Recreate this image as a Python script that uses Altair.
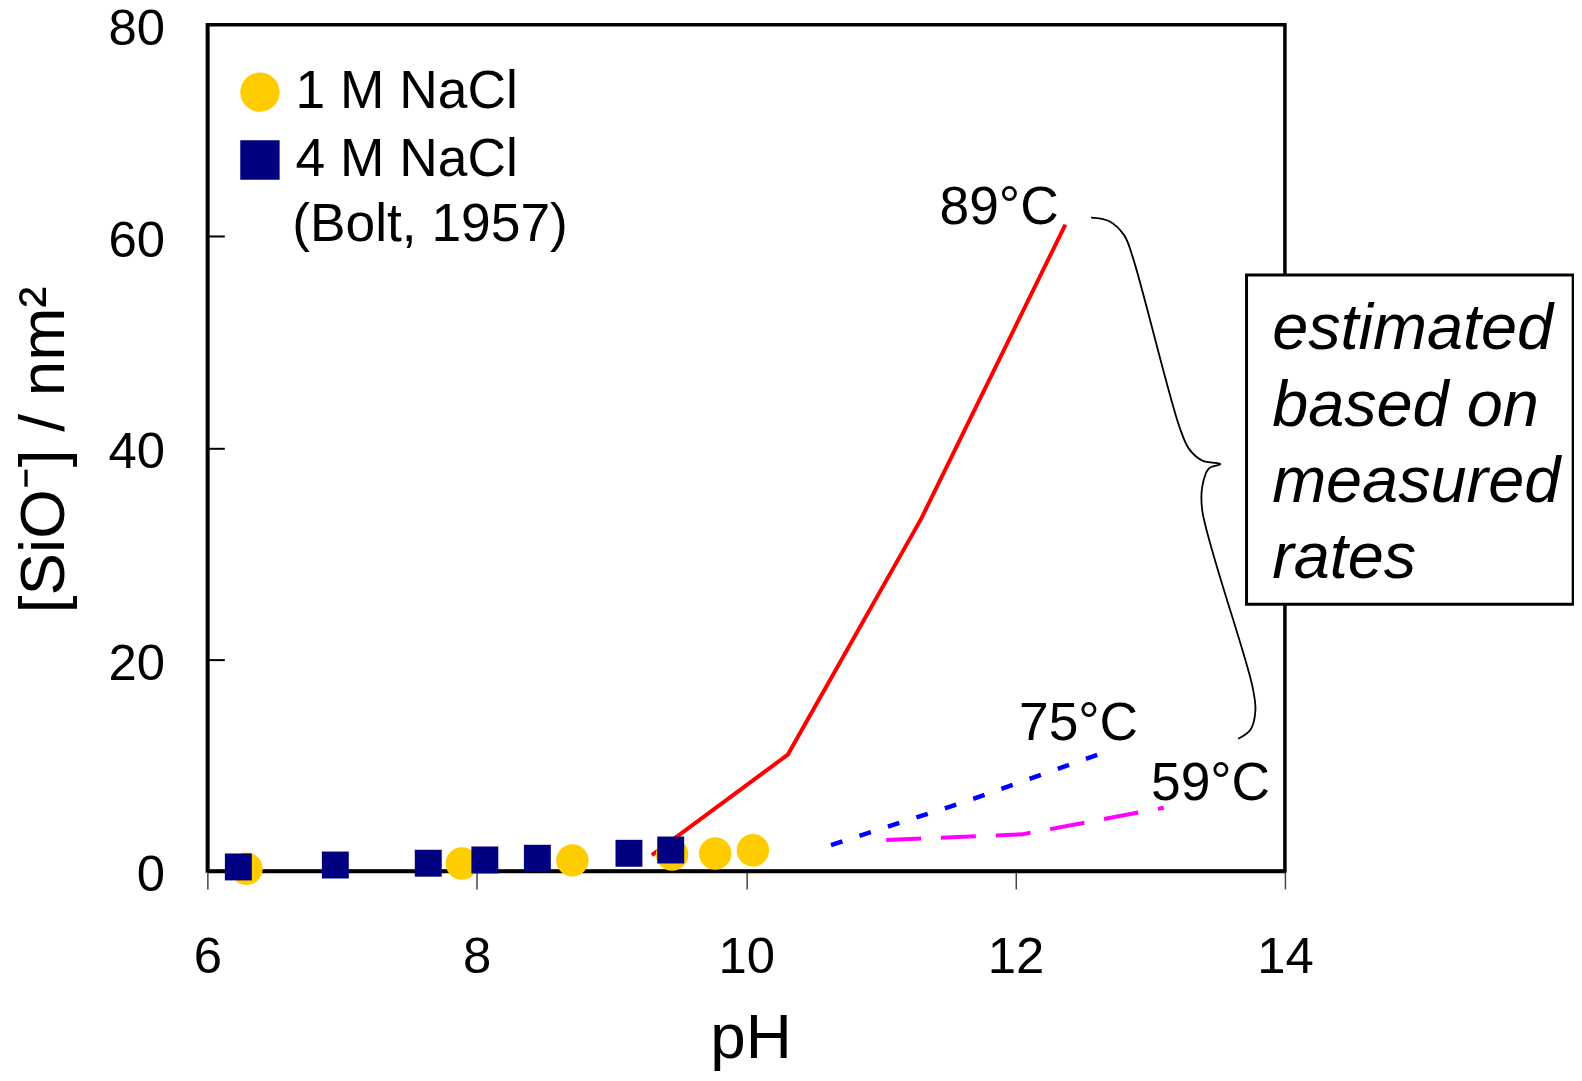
import altair as alt
import pandas as pd

FONT = "Liberation Sans"

# ---------------- data ----------------
nacl1_ph = [6.29, 7.89, 8.71, 9.45, 9.77, 10.05]
nacl1_val = [0.2, 0.7, 1.0, 1.55, 1.65, 1.95]
nacl4_ph = [6.23, 6.95, 7.64, 8.06, 8.45, 9.13, 9.44]
nacl4_val = [0.38, 0.56, 0.73, 1.04, 1.2, 1.67, 1.98]

t89_ph = [9.30, 10.31, 11.30, 12.37]
t89_val = [1.5, 11.0, 33.3, 61.1]
t75_ph = [10.63, 11.63, 12.70]
t75_val = [2.45, 6.56, 11.4]
t59_ph = [11.04, 12.05, 13.10]
t59_val = [2.92, 3.46, 5.97]

series_names = ["1 M NaCl", "4 M NaCl"]
series_colors = ["#FFCC00", "#000080"]
series_shapes = ["circle", "square"]

temp_labels = ["89°C", "75°C", "59°C"]
temp_label_ph = [12.32, 12.91, 13.89]
temp_label_val = [61.15, 12.34, 6.69]

source_label = ["(Bolt, 1957)"]
source_ph = [6.63]
source_val = [59.58]

box_lines = ["estimated", "based on", "measured", "rates"]
box_line_ph = [13.905, 13.905, 13.905, 13.905]
box_line_val = [49.31, 42.06, 34.86, 27.69]
box_ph = [13.715]
box_ph2 = [16.14]
box_val = [25.2]
box_val2 = [56.33]

brace_ph = [12.561, 12.696, 12.807, 12.869, 13.214, 13.288, 13.387, 13.522,
            13.436, 13.387, 13.387, 13.757, 13.781, 13.744, 13.653]
brace_val = [61.76, 61.42, 60.08, 58.07, 42.09, 39.90, 38.79, 38.46,
             38.05, 36.37, 34.02, 17.54, 15.19, 13.35, 12.50]

x_ticks = [6, 8, 10, 12, 14]
y_ticks = [0, 20, 40, 60, 80]
y_inner_ticks = [20, 40, 60]

# ---------------- frames ----------------
pts1 = pd.DataFrame({"ph": nacl1_ph, "val": nacl1_val, "series": series_names[0]})
pts4 = pd.DataFrame({"ph": nacl4_ph, "val": nacl4_val, "series": series_names[1]})
l89 = pd.DataFrame({"ph": t89_ph, "val": t89_val})
l75 = pd.DataFrame({"ph": t75_ph, "val": t75_val})
l59 = pd.DataFrame({"ph": t59_ph, "val": t59_val})
brace = pd.DataFrame({"ph": brace_ph, "val": brace_val, "i": list(range(len(brace_ph)))})
tlab = pd.DataFrame({"ph": temp_label_ph, "val": temp_label_val, "t": temp_labels})
slab = pd.DataFrame({"ph": source_ph, "val": source_val, "t": source_label})
blab = pd.DataFrame({"ph": box_line_ph, "val": box_line_val, "t": box_lines})
boxdf = pd.DataFrame({"ph": box_ph, "ph2": box_ph2, "val": box_val, "val2": box_val2})

W, H = 1081, 849

xscale = alt.Scale(domain=[6, 14], nice=False, zero=False)
yscale = alt.Scale(domain=[0, 80], nice=False, zero=False)

x_axis = alt.Axis(values=x_ticks, title="pH", grid=False, labelFontSize=51, labelFont=FONT,
                  labelColor="black", labelPadding=44, labelFlush=False, tickSize=18,
                  tickColor="#444444", tickWidth=1.5, domainColor="black", domainWidth=3.5,
                  titleFontSize=64, titleFont=FONT, titleColor="black", titleFontWeight="normal",
                  titleX=545, titleY=136, titleBaseline="top", titleAlign="center")
y_axis_main = alt.Axis(values=y_ticks, title="[SiO⁻] / nm²", grid=False, labelFontSize=51,
                       labelFont=FONT, labelColor="black", labelPadding=43, labelOffset=5,
                       tickSize=0, domainColor="black", domainWidth=3.5, titleFontSize=64,
                       titleFont=FONT, titleColor="black", titleFontWeight="normal",
                       titleX=-131.3, titleY=426, titleAngle=270, titleBaseline="bottom",
                       titleAlign="center")
y_axis_ticks = alt.Axis(orient="right", offset=-W, values=y_inner_ticks, labels=False,
                        domain=False, title=None, grid=False, tickSize=17, tickColor="black",
                        tickWidth=2)

X = alt.X("ph:Q", scale=xscale, axis=x_axis)
def Y(axis=None):
    return alt.Y("val:Q", scale=yscale, axis=axis)

legend = alt.Legend(orient="none", legendX=26, legendY=41, title=None, symbolSize=1560,
                    symbolStrokeWidth=0, labelFontSize=53.5, labelFont=FONT, labelColor="black",
                    labelOffset=9, rowPadding=13, labelLimit=500, padding=0)
color = alt.Color("series:N", scale=alt.Scale(domain=series_names, range=series_colors), legend=legend)
shape = alt.Shape("series:N", scale=alt.Scale(domain=series_names, range=series_shapes), legend=legend)

line89 = alt.Chart(l89).mark_line(color="#FF0000", strokeWidth=4).encode(x=X, y=Y())
line75 = alt.Chart(l75).mark_line(color="#0000FF", strokeWidth=4.5, strokeDash=[12, 18]).encode(x=X, y=Y())
line59 = alt.Chart(l59).mark_line(color="#FF00FF", strokeWidth=4, strokeDash=[35, 20]).encode(x=X, y=Y())
brace_line = alt.Chart(brace).mark_line(color="black", strokeWidth=1.8, interpolate="catmull-rom").encode(
    x=X, y=Y(), order=alt.Order("i:Q"))
box = alt.Chart(boxdf).mark_rect(fill="white", stroke="black", strokeWidth=3).encode(
    x=X, x2="ph2:Q", y=Y(), y2="val2:Q")
box_text = alt.Chart(blab).mark_text(align="left", baseline="alphabetic", fontSize=65, font=FONT,
                                     fontStyle="italic", color="black").encode(x=X, y=Y(), text="t:N")
temp_text = alt.Chart(tlab).mark_text(align="right", baseline="alphabetic", fontSize=53.5, font=FONT,
                                      color="black").encode(x=X, y=Y(), text="t:N")
src_text = alt.Chart(slab).mark_text(align="left", baseline="alphabetic", fontSize=53.5, font=FONT,
                                     color="black").encode(x=X, y=Y(), text="t:N")
circles = alt.Chart(pts1).mark_point(filled=True, opacity=1, size=1060, strokeWidth=0).encode(
    x=X, y=Y(y_axis_main), color=color, shape=shape)
squares = alt.Chart(pts4).mark_point(filled=True, opacity=1, size=730, strokeWidth=0).encode(
    x=X, y=Y(y_axis_ticks), color=color, shape=shape)

chart = alt.layer(line89, line75, line59, brace_line, box, box_text, temp_text, src_text,
                  circles, squares).resolve_scale(y="shared").resolve_axis(y="independent").properties(
    width=W, height=H,
    autosize=alt.AutoSizeParams(type="none"),
    padding={"left": 200, "top": 15, "right": 290, "bottom": 201},
    background="white",
).configure_view(stroke="black", strokeWidth=3.5)

chart.save("out.html", embed_options={"renderer": "svg", "actions": False})
